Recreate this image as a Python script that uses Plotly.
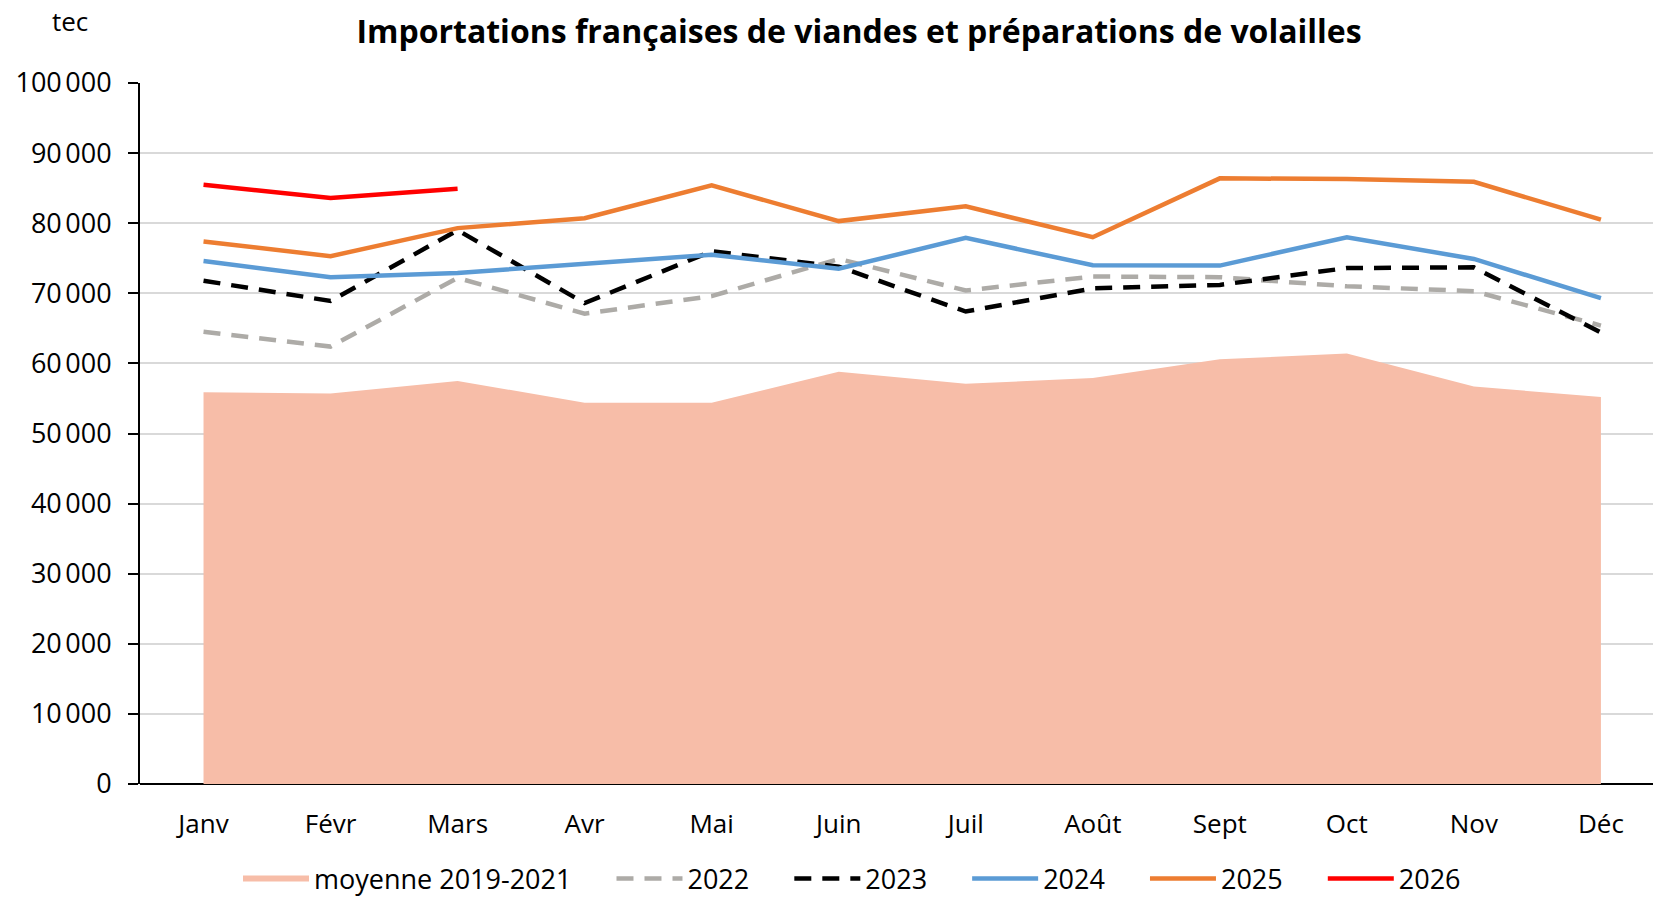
import plotly.graph_objects as go

months = ["Janv", "Févr", "Mars", "Avr", "Mai", "Juin", "Juil", "Août", "Sept", "Oct", "Nov", "Déc"]
moyenne_2019_2021 = [55900, 55700, 57500, 54400, 54400, 58800, 57100, 57900, 60600, 61400, 56700, 55200]
y2022 = [64500, 62400, 72200, 67100, 69600, 74900, 70400, 72400, 72300, 71000, 70300, 65400]
y2023 = [71800, 68900, 79000, 68600, 76000, 73800, 67400, 70700, 71200, 73600, 73700, 64400]
y2024 = [74600, 72300, 72900, 74200, 75500, 73500, 77900, 74000, 73950, 78000, 74900, 69300]
y2025 = [77400, 75300, 79300, 80700, 85400, 80300, 82400, 78000, 86400, 86300, 85900, 80500]
y2026 = [85500, 83600, 84900]

ytick_vals = [0, 10000, 20000, 30000, 40000, 50000, 60000, 70000, 80000, 90000, 100000]
ytick_text = ["0", "10\u202f000", "20\u202f000", "30\u202f000", "40\u202f000", "50\u202f000",
              "60\u202f000", "70\u202f000", "80\u202f000", "90\u202f000", "100\u202f000"]

FONT = "Open Sans"
FS = 27
PAD = "\u00a0" * 5
x = list(range(len(months)))

fig = go.Figure()
fig.add_trace(go.Scatter(x=x, y=moyenne_2019_2021, name="moyenne 2019-2021" + PAD, mode="none",
                         fill="tozeroy", fillcolor="#F7BDA8"))
fig.add_trace(go.Scatter(x=x, y=y2022, name="2022" + PAD, mode="lines",
                         line=dict(color="#ADABA7", width=4.5, dash="17px,11px")))
fig.add_trace(go.Scatter(x=x, y=y2023, name="2023" + PAD, mode="lines",
                         line=dict(color="#000000", width=4.5, dash="17px,11px")))
fig.add_trace(go.Scatter(x=x, y=y2024, name="2024" + PAD, mode="lines",
                         line=dict(color="#5B9BD5", width=4.5)))
fig.add_trace(go.Scatter(x=x, y=y2025, name="2025" + PAD, mode="lines",
                         line=dict(color="#ED7D31", width=4.5)))
fig.add_trace(go.Scatter(x=x[:len(y2026)], y=y2026, name="2026", mode="lines",
                         line=dict(color="#FF0000", width=4.5)))

fig.update_layout(
    width=1653, height=899,
    margin=dict(l=140, r=0, t=83, b=115),
    paper_bgcolor="white", plot_bgcolor="white",
    font=dict(family=FONT, size=FS, color="#000000"),
    title=dict(text="<b>Importations françaises de viandes et préparations de volailles</b>",
               x=859 / 1653, xanchor="center", y=1 - 32 / 899, yanchor="middle",
               font=dict(family=FONT, size=32, color="#000000")),
    showlegend=True,
    legend=dict(orientation="h", x=(852 - 140) / 1513,
                xanchor="center", yref="container", y=1 - 879 / 899, yanchor="middle",
                font=dict(family=FONT, size=FS), itemwidth=66, tracegroupgap=0,
                bgcolor="rgba(0,0,0,0)"),
    annotations=[dict(text="tec", x=(70 - 140) / 1513, y=1 + (83 - 21) / 701,
                      xref="paper", yref="paper", showarrow=False,
                      xanchor="center", yanchor="middle",
                      font=dict(family=FONT, size=FS - 1))],
)

fig.update_xaxes(range=[-0.5, 11.41], tickmode="array", tickvals=x, ticktext=months,
                 showgrid=False, showline=False, ticks="", zeroline=False,
                 ticklabelstandoff=22, tickfont=dict(family=FONT, size=FS - 1))
fig.update_yaxes(range=[0, 100000], tickmode="array", tickvals=ytick_vals, ticktext=ytick_text,
                 showgrid=True, gridcolor="#D9D9D9", gridwidth=1.5,
                 showline=True, linecolor="#000000", linewidth=2,
                 ticks="outside", ticklen=10, tickcolor="#000000", tickwidth=2,
                 zeroline=True, zerolinecolor="#000000", zerolinewidth=2,
                 ticklabelstandoff=11, tickfont=dict(family=FONT, size=FS))

fig.write_html("out.html", config={"displayModeBar": False},
               post_script="document.body.style.margin='0';document.body.style.overflow='hidden';")
